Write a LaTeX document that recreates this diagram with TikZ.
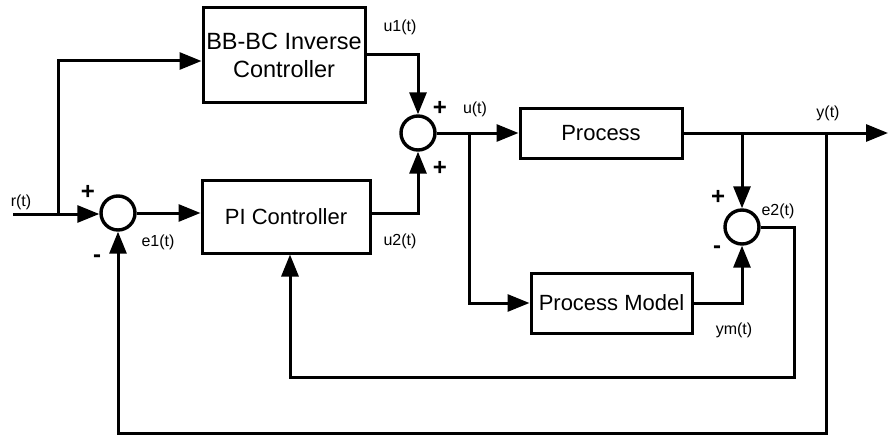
\documentclass[tikz,border=0pt]{standalone}
\usepackage{fontspec}
\setmainfont{Liberation Sans}
\usetikzlibrary{arrows.meta}
\usetikzlibrary{calc}

\tikzset{
  blockbox/.style={draw, line width=3pt, minimum width=#1, inner sep=2pt,
    font=\fontsize{22}{25}\selectfont, align=center},
  sumnode/.style={draw, circle, line width=3.4pt, minimum size=34pt, inner sep=0pt},
  sig/.style={font=\fontsize{16}{17}\selectfont, inner sep=0pt},
  sign/.style={font=\bfseries\fontsize{24}{24}\selectfont, inner sep=0pt},
  wire/.style={line width=3pt},
  arr/.style={wire, -{Triangle[length=22pt,width=17pt]}}
}

\begin{document}
\begin{tikzpicture}[x=1pt,y=-1pt]
\useasboundingbox (0,0) rectangle (889,436);

% Blocks
\node[blockbox=162pt, minimum height=94pt, font=\fontsize{23.5}{28}\selectfont] (bbbc) at (284,55) {BB-BC Inverse\\Controller};
\node[blockbox=168pt, minimum height=73pt] (pi) at (286,216.5) {PI Controller};
\node[blockbox=162pt, minimum height=50pt] (proc) at (601,133) {Process};
\node[blockbox=161pt, minimum height=60pt] (model) at (611.5,303) {Process Model};

% Summing points
\node[sumnode] (sum1) at (118,213) {};
\node[sumnode] (sum2) at (418,133) {};
\node[sumnode] (sum3) at (742,227) {};

% Free ends and branch points
\coordinate (in) at (13,214);
\coordinate (jr) at (58,214);
\coordinate (ju) at (469,133);
\coordinate (jm) at (742,133);
\coordinate (jy) at (826,133);
\coordinate (out) at (888,133);
\coordinate (fb2) at (794,377);
\coordinate (fb1) at (826,433);

% Connectors
\draw[arr] (in) -- (in -| sum1.west);
\draw[arr] (jr) |- ([yshift=-6pt]bbbc.west);
\draw[arr] (sum1.east) -- (sum1 -| pi.west);
\draw[arr] (bbbc.east) -| (sum2.north);
\draw[arr] (pi.east |- sum1) -| (sum2.south);
\draw[arr] (sum2.east) -- (proc.west);
\draw[arr] (ju) |- (model.west);
\draw[arr] (proc.east) -- (out);
\draw[arr] (jm) -- (sum3.north);
\draw[arr] (model.east) -| (sum3.south);
\draw[arr] (sum3.east) -| (fb2) -| ([xshift=4pt]pi.south);
\draw[arr] (jy) -- (fb1) -| (sum1.south);

% Signal names
\node[sig] (rt) at (21,202) {r(t)};
\node[sig] (e1) at (158,242) {e1(t)};
\node[sig] (u1) at (400,27) {u1(t)};
\node[sig] (u2) at (400,241) {u2(t)};
\node[sig] (ut) at (475,109) {u(t)};
\node[sig] (yt) at (828,113) {y(t)};
\node[sig] (e2) at (778,211) {e2(t)};
\node[sig] (ym) at (734,330) {ym(t)};

% Signs
\node[sign] at (88,192) {+};
\node[sign] at (97,259) {-};
\node[sign] at (440,108) {+};
\node[sign] at (440,168) {+};
\node[sign] at (718,197) {+};
\node[sign] at (717,250) {-};

\end{tikzpicture}
\end{document}
